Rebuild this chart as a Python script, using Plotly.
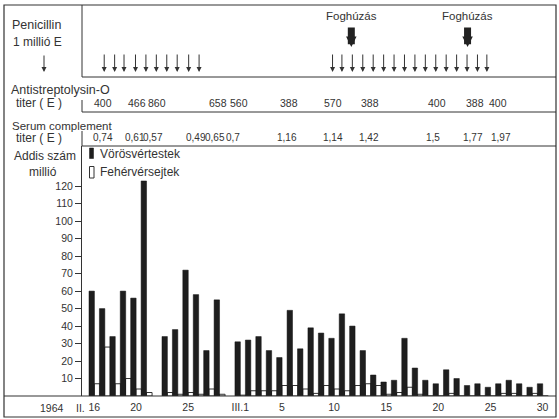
import plotly.graph_objects as go

W, H = 559, 419

# ---- data (day index 0 = 1964 Feb 16, 43 = Mar 30; Feb has 29 days) ----
day_idx = list(range(44))
tick_idx = [0, 4, 9, 14, 18, 23, 28, 33, 38, 43]
tick_text = ["16", "20", "25", "III.1", "5", "10", "15", "20", "25", "30"]
y_ticks = [10, 20, 30, 40, 50, 60, 70, 80, 90, 100, 110, 120]

voros = [60, 50, 34, 60, 56, 123, None, 34, 38, 72, 58, 26, 55, None,
         31, 32, 34, 26, 22, 49, 27, 39, 36, 33, 47, 40, 26, 12, 8, 9,
         33, 16, 9, 7, 15, 10, 6, 7, 5, 7, 9, 7, 5, 7]
feher = [7, 28, 7, 10, 4, 2, None, 2, 1, 2, 1, 4, 1, None,
         0.5, 3, 3, 3, 6, 6, 4, 1.5, 6, 4, 3, 6, 7, 6, 1, 2,
         5, 1, 0, 0, 1.5, 0, 0, 0, 0, 1.5, 1.5, 0, 1.5, 0]

penicillin_days = [1.2, 2.2, 3.1, 4.2, 5.2, 6.2, 7.2, 8.2, 9.3, 10.3,
                   23.1, 24.0, 25.0, 26.0, 27.0, 28.0, 29.0, 30.0, 31.0,
                   32.0, 33.0, 34.0, 35.0, 36.0, 37.0, 37.9]
foghuzas_days = [24.9, 36.05]

aso_days = [1.05, 4.35, 6.3, 12.1, 14.1, 18.9, 23.1, 26.7, 33.1, 36.8, 39.0]
aso_vals = ["400", "466", "860", "658", "560", "388", "570", "388", "400", "388", "400"]

serum_days = [1.1, 4.15, 5.9, 10.0, 11.8, 13.6, 18.7, 23.1, 26.6, 32.7, 36.6, 39.3]
serum_vals = ["0,74", "0,61", "0,57", "0,49", "0,65", "0,7", "1,16", "1,14", "1,42",
              "1,5", "1,77", "1,97"]

# ---- helpers (pixel -> paper) ----
def px(x):
    return x / W

def py(y):
    return 1 - y / H

INK = "#333333"
FONT = "Liberation Sans"
LABEL_SHIFT = 0.25  # printed day labels sit slightly right of the bar centres

fig = go.Figure()
fig.add_trace(go.Bar(x=day_idx, y=feher, width=0.55, offset=0.24,
                     marker=dict(color="white", line=dict(color=INK, width=1)),
                     name="Fehérvérsejtek", showlegend=False))
fig.add_trace(go.Bar(x=day_idx, y=voros, width=0.52, offset=-0.26,
                     marker=dict(color="#1e1e1e", line=dict(color="#111", width=0.5)),
                     name="Vörösvértestek", showlegend=False))

shapes = []
def hline(y, x0, x1, w=1):
    shapes.append(dict(type="line", xref="paper", yref="paper", x0=px(x0), x1=px(x1),
                       y0=py(y), y1=py(y), line=dict(color=INK, width=w)))
def vline(x, y0, y1, w=1):
    shapes.append(dict(type="line", xref="paper", yref="paper", x0=px(x), x1=px(x),
                       y0=py(y0), y1=py(y1), line=dict(color=INK, width=w)))

# outer frame
shapes.append(dict(type="rect", xref="paper", yref="paper", x0=px(4), x1=px(556),
                   y0=py(417), y1=py(5), line=dict(color=INK, width=1.2)))
vline(82, 5, 77)
hline(77, 82, 556)
vline(82, 100, 112)
hline(112, 82, 556)
vline(82, 131, 146)
hline(146, 82, 556)
hline(396, 4, 556, 1.2)

# legend boxes
shapes.append(dict(type="rect", xref="paper", yref="paper", x0=px(89.5), x1=px(93.5),
                   y0=py(158.5), y1=py(148), fillcolor="#1e1e1e", line=dict(color="#111", width=0.5)))
shapes.append(dict(type="rect", xref="paper", yref="paper", x0=px(89.5), x1=px(94),
                   y0=py(178), y1=py(166.5), fillcolor="white", line=dict(color=INK, width=1)))

ann = []
def txt(text, x, y, size=12, xanchor="left"):
    ann.append(dict(text=text, xref="paper", yref="paper", x=px(x), y=py(y),
                    xanchor=xanchor, yanchor="middle", showarrow=False,
                    font=dict(family=FONT, size=size, color=INK)))

txt("Penicillin", 10, 25, 12.5)
txt("1 millió E", 11, 42, 12)
txt("Antistreptolysin-O", 9, 90, 12.5)
txt("titer ( E )", 14, 103, 12)
txt("Serum complement", 10, 126, 11.5)
txt("titer ( E )", 14, 138, 12)
txt("Addis szám", 12, 156, 12)
txt("millió", 43, 172, 12, "center")
txt("Vörösvértestek", 98, 154, 12)
txt("Fehérvérsejtek", 98, 172, 12)
txt("1964", 52, 408, 10.5, "center")
txt("II.", 80, 408, 10.5, "center")

# penicillin legend arrow
ann.append(dict(text="", xref="paper", yref="paper", x=px(44), y=py(72),
                ax=0, ay=-18, showarrow=True, arrowhead=2, arrowsize=1,
                arrowwidth=1, arrowcolor=INK))

# penicillin injections
for d in penicillin_days:
    ann.append(dict(text="", xref="x", yref="paper", x=d, y=py(72),
                    ax=0, ay=-19, showarrow=True, arrowhead=2, arrowsize=1,
                    arrowwidth=1, arrowcolor=INK))

# tooth extraction
for d in foghuzas_days:
    ann.append(dict(text="Foghúzás", xref="x", yref="paper", x=d, y=py(16),
                    xanchor="center", yanchor="middle", showarrow=False,
                    font=dict(family=FONT, size=11.5, color=INK)))
    ann.append(dict(text="", xref="x", yref="paper", x=d, y=py(47),
                    ax=0, ay=-21, showarrow=True, arrowhead=2, arrowsize=0.3,
                    arrowwidth=7, arrowcolor="#222"))

for d, v in zip(aso_days, aso_vals):
    ann.append(dict(text=v, xref="x", yref="paper", x=d, y=py(102.5),
                    xanchor="center", yanchor="middle", showarrow=False,
                    font=dict(family=FONT, size=10.5, color=INK)))
for d, v in zip(serum_days, serum_vals):
    ann.append(dict(text=v, xref="x", yref="paper", x=d, y=py(137.5),
                    xanchor="center", yanchor="middle", showarrow=False,
                    font=dict(family=FONT, size=10, color=INK)))

x0 = (82 - 91.7) / 10.426
x1 = (556 - 91.7) / 10.426

fig.update_layout(
    width=W, height=H,
    margin=dict(l=0, r=0, t=0, b=0),
    paper_bgcolor="white", plot_bgcolor="white",
    barmode="overlay",
    showlegend=False,
    shapes=shapes,
    annotations=ann,
    xaxis=dict(domain=[px(82), px(556)], range=[x0, x1],
               tickvals=[t + LABEL_SHIFT for t in tick_idx], ticktext=tick_text, ticks="",
               tickfont=dict(family=FONT, size=10.5, color=INK),
               showgrid=False, zeroline=False, showline=False,
               ticklabelstandoff=3),
    yaxis=dict(domain=[py(396), py(146)], range=[0, 143],
               tickvals=y_ticks, ticks="outside", ticklen=6, tickcolor=INK,
               tickfont=dict(family=FONT, size=10.5, color=INK),
               showgrid=False, zeroline=False, showline=True,
               linecolor=INK, linewidth=1),
)

fig.write_html("out.html")
